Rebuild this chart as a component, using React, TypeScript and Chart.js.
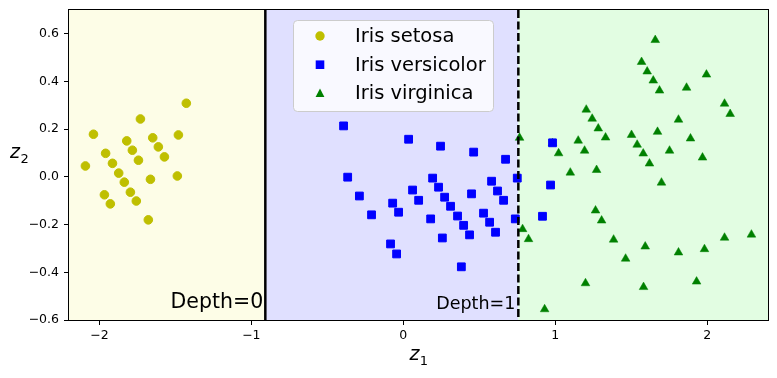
import React, { useEffect, useRef } from 'react';
import { Chart, registerables } from 'chart.js';

Chart.register(...registerables);

// ---- data ----
const setosaX = [-1.428, -1.730, -2.039, -1.820, -1.649, -1.480, -1.783, -1.612, -1.959, -1.572, -1.743, -1.914, -2.092, -1.873, -1.487, -1.664, -1.836, -1.796, -1.967, -1.757, -1.928, -1.678];
const setosaY = [0.309, 0.243, 0.179, 0.151, 0.164, 0.176, 0.112, 0.126, 0.099, 0.084, 0.070, 0.057, 0.046, 0.016, 0.004, -0.010, -0.022, -0.064, -0.075, -0.101, -0.113, -0.180];

const versicolorX = [-0.393, 0.035, 0.245, 0.463, 0.673, -0.366, 0.193, 0.581, 0.750, 0.232, 0.620, 0.061, -0.289, 0.449, 0.272, 0.101, 0.660, -0.070, 0.311, -0.031, -0.209, 0.357, 0.528, 0.180, 0.737, 0.397, 0.568, 0.436, 0.607, 0.257, -0.084, -0.044, 0.382, 0.982, 0.969, 0.916];
const versicolorY = [0.214, 0.158, 0.129, 0.104, 0.074, -0.001, -0.005, -0.018, -0.005, -0.043, -0.059, -0.055, -0.080, -0.071, -0.085, -0.098, -0.098, -0.110, -0.123, -0.148, -0.159, -0.164, -0.152, -0.176, -0.176, -0.203, -0.190, -0.243, -0.232, -0.256, -0.281, -0.323, -0.377, 0.143, -0.034, -0.165];

const virginicaX = [1.658, 1.568, 1.605, 1.645, 1.686, 1.995, 1.864, 2.114, 2.151, 1.204, 1.243, 1.283, 1.331, 1.811, 1.673, 1.502, 1.890, 1.151, 0.982, 0.765, 1.022, 1.193, 1.539, 1.579, 1.620, 1.752, 1.969, 1.099, 1.272, 1.699, 1.265, 1.305, 0.785, 0.824, 1.384, 1.592, 1.463, 1.811, 1.982, 2.114, 2.291, 1.199, 1.581, 1.930, 0.930];
const virginicaY = [0.574, 0.482, 0.442, 0.404, 0.362, 0.429, 0.374, 0.307, 0.264, 0.282, 0.244, 0.203, 0.165, 0.240, 0.189, 0.176, 0.161, 0.152, 0.141, 0.164, 0.099, 0.110, 0.135, 0.098, 0.056, 0.110, 0.081, 0.018, 0.029, -0.024, -0.141, -0.183, -0.219, -0.261, -0.263, -0.292, -0.343, -0.317, -0.303, -0.255, -0.242, -0.446, -0.462, -0.439, -0.555];

const seriesNames = ['Iris setosa', 'Iris versicolor', 'Iris virginica'];
const seriesColors = ['#bfbf00', '#0000ff', '#008000'];
const xTicks = [-2, -1, 0, 1, 2];
const yTicks = [-0.6, -0.4, -0.2, 0.0, 0.2, 0.4, 0.6];
const xRange = [-2.2, 2.4];
const yRange = [-0.6, 0.7];
const thresholds = [-0.908, 0.757];
const regionColors = ['#fdfde7', '#e0e0ff', '#e2fde2'];
const depthLabels = ['Depth=0', 'Depth=1'];
const depthLabelX = [-0.922, 0.737];
const depthLabelY = [-0.549, -0.552];

const FONT = "'DejaVu Sans', sans-serif";
const minus = (s: string) => s.replace('-', '\u2212');

const toPoints = (xs: number[], ys: number[]) => xs.map((x, i) => ({ x, y: ys[i] }));

function drawMarker(ctx: CanvasRenderingContext2D, kind: number, x: number, y: number) {
  ctx.fillStyle = seriesColors[kind];
  ctx.beginPath();
  if (kind === 0) {
    ctx.arc(x, y, 4.7, 0, Math.PI * 2);
  } else if (kind === 1) {
    ctx.rect(x - 4.3, y - 4.3, 8.6, 8.6);
  } else {
    ctx.moveTo(x, y - 5);
    ctx.lineTo(x + 4.4, y + 3.5);
    ctx.lineTo(x - 4.4, y + 3.5);
    ctx.closePath();
  }
  ctx.fill();
}

const decorPlugin = {
  id: 'decor',
  beforeDatasetsDraw(chart: any) {
    const { ctx, chartArea: a, scales } = chart;
    const xs = scales.x;
    const bounds = [a.left, xs.getPixelForValue(thresholds[0]), xs.getPixelForValue(thresholds[1]), a.right];
    ctx.save();
    for (let i = 0; i < 3; i++) {
      ctx.fillStyle = regionColors[i];
      ctx.fillRect(bounds[i], a.top, bounds[i + 1] - bounds[i], a.bottom - a.top);
    }
    ctx.restore();
  },
  afterDatasetsDraw(chart: any) {
    const { ctx, chartArea: a, scales } = chart;
    const xs = scales.x;
    const ys = scales.y;
    ctx.save();
    ctx.strokeStyle = '#000';
    ctx.lineWidth = 2.5;
    let px = xs.getPixelForValue(thresholds[0]);
    ctx.beginPath();
    ctx.moveTo(px, a.top);
    ctx.lineTo(px, a.bottom);
    ctx.stroke();
    px = xs.getPixelForValue(thresholds[1]);
    ctx.setLineDash([8, 3.5]);
    ctx.beginPath();
    ctx.moveTo(px, a.top);
    ctx.lineTo(px, a.bottom);
    ctx.stroke();
    ctx.setLineDash([]);

    // depth labels
    ctx.fillStyle = '#000';
    ctx.textAlign = 'right';
    ctx.textBaseline = 'alphabetic';
    ctx.font = `20.5px ${FONT}`;
    ctx.fillText(depthLabels[0], xs.getPixelForValue(depthLabelX[0]), ys.getPixelForValue(depthLabelY[0]));
    ctx.font = `17.5px ${FONT}`;
    ctx.fillText(depthLabels[1], xs.getPixelForValue(depthLabelX[1]), ys.getPixelForValue(depthLabelY[1]));

    // legend
    const lx = 293.5, ly = 20.5, lw = 200, lh = 91, r = 4;
    ctx.beginPath();
    ctx.moveTo(lx + r, ly);
    ctx.lineTo(lx + lw - r, ly);
    ctx.quadraticCurveTo(lx + lw, ly, lx + lw, ly + r);
    ctx.lineTo(lx + lw, ly + lh - r);
    ctx.quadraticCurveTo(lx + lw, ly + lh, lx + lw - r, ly + lh);
    ctx.lineTo(lx + r, ly + lh);
    ctx.quadraticCurveTo(lx, ly + lh, lx, ly + lh - r);
    ctx.lineTo(lx, ly + r);
    ctx.quadraticCurveTo(lx, ly, lx + r, ly);
    ctx.closePath();
    ctx.fillStyle = 'rgba(255,255,255,0.8)';
    ctx.fill();
    ctx.strokeStyle = '#cccccc';
    ctx.lineWidth = 1;
    ctx.stroke();
    ctx.font = `19.5px ${FONT}`;
    ctx.textAlign = 'left';
    ctx.textBaseline = 'middle';
    for (let i = 0; i < 3; i++) {
      const yy = 36 + i * 28.7;
      drawMarker(ctx, i, 320, yy);
      ctx.fillStyle = '#000';
      ctx.fillText(seriesNames[i], 355, yy + 1);
    }

    // frame
    ctx.strokeStyle = '#000';
    ctx.lineWidth = 1;
    ctx.strokeRect(Math.round(a.left) - 0.5, Math.round(a.top) - 0.5, Math.round(a.right - a.left) + 1, Math.round(a.bottom - a.top) + 1);

    // axis titles
    ctx.fillStyle = '#000';
    ctx.textAlign = 'left';
    ctx.textBaseline = 'alphabetic';
    const cx = (a.left + a.right) / 2;
    ctx.font = `italic 19px ${FONT}`;
    const zw = ctx.measureText('z').width;
    ctx.font = `13px ${FONT}`;
    const sw = ctx.measureText('1').width;
    const tx = cx - (zw + sw) / 2;
    ctx.font = `italic 19px ${FONT}`;
    ctx.fillText('z', tx, 360);
    ctx.font = `13px ${FONT}`;
    ctx.fillText('1', tx + zw + 0.5, 365);
    ctx.font = `italic 19px ${FONT}`;
    ctx.fillText('z', 10, 158);
    ctx.font = `13px ${FONT}`;
    ctx.fillText('2', 10.5 + zw, 163);
    ctx.restore();
  },
};

export default function App() {
  const ref = useRef<HTMLCanvasElement>(null);
  useEffect(() => {
    document.body.style.margin = '0';
    const canvas = ref.current!;
    const chart = new Chart(canvas, {
      type: 'scatter',
      data: {
        datasets: [
          {
            label: seriesNames[0],
            data: toPoints(setosaX, setosaY),
            backgroundColor: seriesColors[0],
            borderColor: seriesColors[0],
            pointStyle: 'circle',
            pointRadius: 4.3,
            borderWidth: 1,
          },
          {
            label: seriesNames[1],
            data: toPoints(versicolorX, versicolorY),
            backgroundColor: seriesColors[1],
            borderColor: seriesColors[1],
            pointStyle: 'rect',
            pointRadius: 5.5,
            borderWidth: 1,
          },
          {
            label: seriesNames[2],
            data: toPoints(virginicaX, virginicaY),
            backgroundColor: seriesColors[2],
            borderColor: seriesColors[2],
            pointStyle: 'triangle',
            pointRadius: 5,
            borderWidth: 0.5,
          },
        ],
      },
      options: {
        animation: false,
        responsive: false,
        devicePixelRatio: 1,
        events: [],
        layout: { padding: { left: 0, right: 9, top: 10, bottom: 0 } },
        plugins: { legend: { display: false }, tooltip: { enabled: false } },
        scales: {
          x: {
            type: 'linear',
            min: xRange[0],
            max: xRange[1],
            afterBuildTicks: (s: any) => { s.ticks = xTicks.map((v) => ({ value: v })); },
            afterFit: (s: any) => { s.height = 58; s.paddingLeft = 0; s.paddingRight = 0; },
            grid: { drawOnChartArea: false, drawTicks: true, tickLength: 5, color: '#000', lineWidth: 1 },
            border: { display: false },
            ticks: {
              color: '#000',
              padding: 3,
              maxRotation: 0,
              font: { family: FONT, size: 12.5 },
              callback: (v: any) => minus(String(Math.round(Number(v)))),
            },
          },
          y: {
            type: 'linear',
            min: yRange[0],
            max: yRange[1],
            afterBuildTicks: (s: any) => { s.ticks = yTicks.map((v) => ({ value: v })); },
            afterFit: (s: any) => { s.width = 69; s.paddingTop = 0; s.paddingBottom = 0; },
            grid: { drawOnChartArea: false, drawTicks: true, tickLength: 5, color: '#000', lineWidth: 1 },
            border: { display: false },
            ticks: {
              color: '#000',
              padding: 5,
              font: { family: FONT, size: 12.5 },
              callback: (v: any) => minus(Number(v).toFixed(1)),
            },
          },
        },
      },
      plugins: [decorPlugin],
    } as any);
    return () => chart.destroy();
  }, []);
  return <canvas ref={ref} width={777} height={378} style={{ display: 'block' }} />;
}
